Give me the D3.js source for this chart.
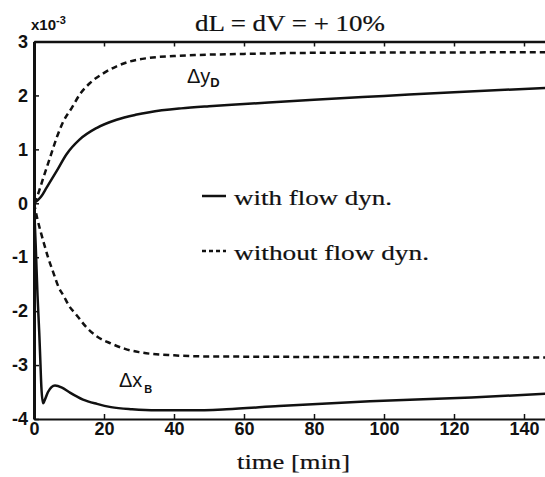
<!DOCTYPE html>
<meta charset="utf-8">
<style>
    body { margin: 0; background: #fff; }
    .axis path { stroke: #111; }
    .axis line { stroke: #111; stroke-width: 1.5; }
    .axis text {
        font-family: "Liberation Sans", Arial, sans-serif;
        font-weight: bold;
        font-size: 18px;
        fill: #111;
    }
    .serif {
        font-family: "Liberation Serif", "Times New Roman", serif;
        fill: #111;
        stroke: #111;
        stroke-width: 0.2;
    }
    .lbl {
        font-family: "Liberation Sans", Arial, sans-serif;
        fill: #111;
    }
    .curve { fill: none; stroke: #111; stroke-width: 2.5; }
    .dashed { stroke-dasharray: 6, 4; }
</style>
<svg width="545" height="477"></svg>
<script src="https://cdn.jsdelivr.net/npm/d3@7"></script>
<script>

    // time [min] and values [x10^-3]
    var tYdWith   = [0, 2, 3.6, 6.5, 9.3, 13, 18, 23.6, 29, 33, 42, 50, 60, 80, 100, 120, 150];
    var ydWith    = [0, 0.12, 0.29, 0.6, 0.91, 1.18, 1.4, 1.55, 1.64, 1.69, 1.76, 1.8, 1.84, 1.92, 1.99, 2.06, 2.15];

    var tYdWithout = [0, 0.8, 2.7, 4.6, 6.5, 8.4, 10.8, 13.1, 16, 19.8, 23.6, 27.4, 32.2, 40, 47, 60, 80, 150];
    var ydWithout  = [0, 0.11, 0.48, 0.85, 1.22, 1.52, 1.77, 2.02, 2.23, 2.41, 2.54, 2.63, 2.69, 2.73, 2.75, 2.77, 2.79, 2.8];

    var tXbWith   = [0, 0.5, 1, 1.5, 1.8, 2.1, 2.6, 3, 4, 5, 6, 8, 10, 14, 18, 22, 28, 35, 45, 55, 70, 96, 125, 150];
    var xbWith    = [0, -0.8, -1.7, -2.4, -2.9, -3.4, -3.71, -3.66, -3.5, -3.41, -3.38, -3.42, -3.5, -3.64, -3.72, -3.78, -3.82, -3.84, -3.84, -3.82, -3.76, -3.67, -3.6, -3.52];

    var tXbWithout = [0, 1, 2, 3, 4, 5.5, 7, 8.5, 10, 12, 15, 18, 22, 26, 30, 40, 50, 150];
    var xbWithout  = [0, -0.3, -0.55, -0.78, -1.0, -1.28, -1.55, -1.72, -1.9, -2.06, -2.3, -2.47, -2.6, -2.7, -2.76, -2.82, -2.84, -2.86];

    var xTicks = [0, 20, 40, 60, 80, 100, 120, 140];
    var yTicks = [-4, -3, -2, -1, 0, 1, 2, 3];

    var svg = d3.select("svg");

    var x = d3.scaleLinear().domain([0, 150]).range([34, 559]);
    var y = d3.scaleLinear().domain([-4, 3]).range([419, 41.5]);

    svg.append("defs").append("clipPath")
            .attr("id", "plot")
            .append("rect")
            .attr("x", 33).attr("y", 38)
            .attr("width", 530).attr("height", 384);

    var line = d3.line()
            .x(function(d) { return x(d[0]); })
            .y(function(d) { return y(d[1]); })
            .curve(d3.curveMonotoneX);

    function pairs(t, v) { return t.map(function(d, i) { return [d, v[i]]; }); }

    var g = svg.append("g").attr("clip-path", "url(#plot)");

    g.append("path").attr("class", "curve").attr("d", line(pairs(tYdWith, ydWith)));
    g.append("path").attr("class", "curve dashed").attr("d", line(pairs(tYdWithout, ydWithout)));
    g.append("path").attr("class", "curve").attr("d", line(pairs(tXbWith, xbWith)));
    g.append("path").attr("class", "curve dashed").attr("d", line(pairs(tXbWithout, xbWithout)));

    // axes
    var gx = svg.append("g")
            .attr("class", "axis")
            .attr("transform", "translate(0," + y(-4) + ")")
            .call(d3.axisBottom(x).tickValues(xTicks).tickSizeInner(-5).tickSizeOuter(0).tickPadding(3));
    gx.select(".domain").attr("stroke-width", 2.2);

    var gt = svg.append("g")
            .attr("class", "axis")
            .attr("transform", "translate(0," + y(3) + ")")
            .call(d3.axisTop(x).tickValues(xTicks).tickSizeInner(-5).tickSizeOuter(0).tickFormat(""));
    gt.select(".domain").attr("stroke-width", 2.6);

    var gy = svg.append("g")
            .attr("class", "axis")
            .attr("transform", "translate(" + x(0) + ",0)")
            .call(d3.axisLeft(y).tickValues(yTicks).tickSizeInner(-5).tickSizeOuter(0).tickPadding(6)
                    .tickFormat(function(d) { return String(d); }));
    gy.select(".domain").attr("stroke-width", 3);

    // exponent
    var ex = svg.append("text").attr("class", "lbl")
            .attr("x", 31).attr("y", 30)
            .style("font-size", "15px").style("font-weight", "bold");
    ex.append("tspan").text("x10");
    ex.append("tspan").attr("dy", -6).style("font-size", "11px").text("-3");

    // title
    svg.append("text").attr("class", "serif")
            .attr("x", 195).attr("y", 31)
            .attr("textLength", 190).attr("lengthAdjust", "spacingAndGlyphs")
            .style("font-size", "23px")
            .text("dL = dV = + 10%");

    // x label
    svg.append("text").attr("class", "serif")
            .attr("x", 237).attr("y", 469)
            .attr("textLength", 113).attr("lengthAdjust", "spacingAndGlyphs")
            .style("font-size", "22px")
            .text("time [min]");

    // curve labels
    var l1 = svg.append("text").attr("class", "lbl")
            .attr("x", 187).attr("y", 83)
            .style("font-size", "20px");
    l1.append("tspan").text("Δy");
    l1.append("tspan").attr("dy", 4).style("font-size", "13px").style("font-weight", "bold").text("D");

    var l2 = svg.append("text").attr("class", "lbl")
            .attr("x", 119).attr("y", 387)
            .style("font-size", "20px");
    l2.append("tspan").text("Δx");
    l2.append("tspan").attr("dy", 6).attr("dx", 2).style("font-size", "11px").style("font-weight", "bold").text("B");

    // legend
    var legend = [
        { label: "with flow dyn.", dash: null, y: 196, len: 158 },
        { label: "without flow dyn.", dash: "4,3", y: 251, len: 195 }
    ];
    legend.forEach(function(d) {
        svg.append("line")
                .attr("x1", 202).attr("x2", 226)
                .attr("y1", d.y).attr("y2", d.y)
                .attr("stroke", "#111").attr("stroke-width", 2.5)
                .attr("stroke-dasharray", d.dash);
        svg.append("text").attr("class", "serif")
                .attr("x", 234).attr("y", d.y + 9)
                .attr("textLength", d.len).attr("lengthAdjust", "spacingAndGlyphs")
                .style("font-size", "22px")
                .text(d.label);
    });

</script>
